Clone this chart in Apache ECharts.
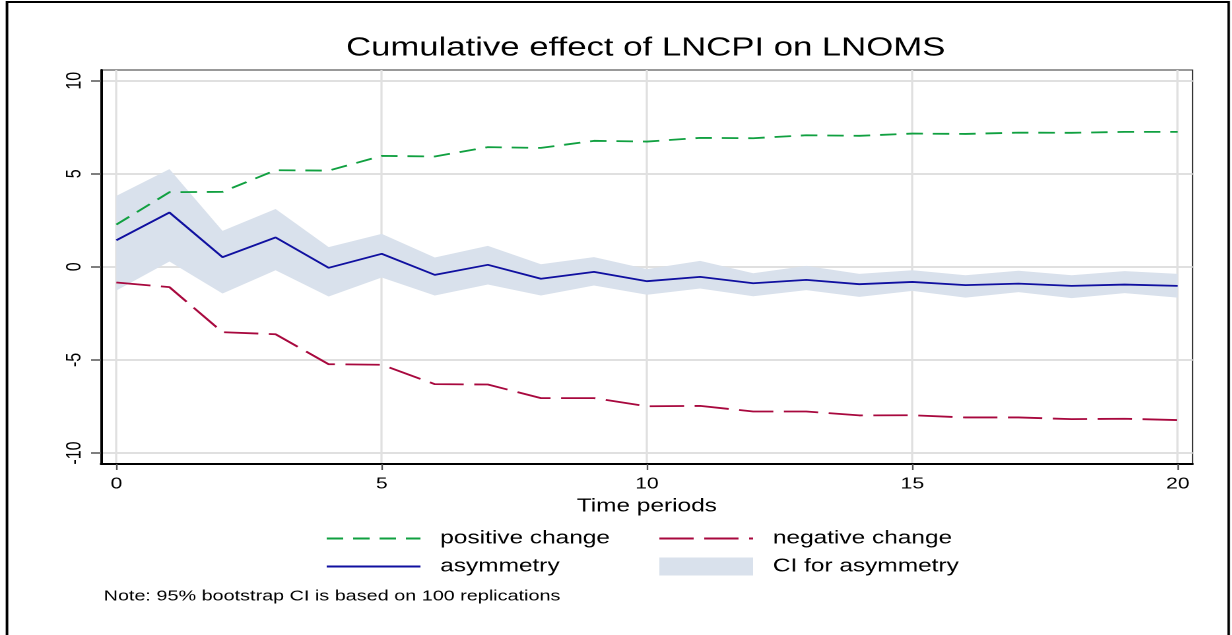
<!DOCTYPE html>
<html>
<head>
<meta charset="utf-8">
<script src="https://cdn.jsdelivr.net/npm/echarts@6/dist/echarts.min.js"></script>
<style>
  html, body { margin: 0; padding: 0; background: #fff; overflow: hidden; }
  #chart { position: absolute; left: 0; top: 0; width: 933.33px; height: 635px;
           transform: scaleX(1.32); transform-origin: 0 0; }
</style>
</head>
<body>
<div id="chart"></div>
<script>
// ---- data ----
const periods = [0,1,2,3,4,5,6,7,8,9,10,11,12,13,14,15,16,17,18,19,20];
const xTicks = [0,5,10,15,20];
const yTicks = [-10,-5,0,5,10];
const positiveChange = [2.27,4.01,4.03,5.19,5.17,5.96,5.93,6.43,6.39,6.77,6.73,6.93,6.91,7.07,7.04,7.16,7.14,7.21,7.20,7.25,7.25];
const negativeChange = [-0.84,-1.09,-3.51,-3.62,-5.23,-5.26,-6.30,-6.32,-7.05,-7.05,-7.49,-7.47,-7.77,-7.77,-7.98,-7.97,-8.09,-8.09,-8.18,-8.16,-8.23];
const asymmetry = [1.43,2.92,0.52,1.58,-0.05,0.70,-0.43,0.11,-0.64,-0.27,-0.77,-0.54,-0.88,-0.70,-0.93,-0.81,-0.98,-0.90,-1.02,-0.95,-1.02];
const ciUpper = [3.81,5.25,1.93,3.11,1.06,1.77,0.50,1.13,0.14,0.52,-0.12,0.32,-0.34,0.05,-0.38,-0.18,-0.45,-0.21,-0.45,-0.23,-0.38];
const ciLower = [-1.27,0.29,-1.43,-0.18,-1.59,-0.57,-1.54,-0.95,-1.54,-1.00,-1.50,-1.16,-1.58,-1.25,-1.61,-1.29,-1.65,-1.36,-1.68,-1.41,-1.65];

const titleText = 'Cumulative effect of LNCPI on LNOMS';
const noteText = 'Note: 95% bootstrap CI is based on 100 replications';
const xName = 'Time periods';
const names = ['positive change', 'negative change', 'asymmetry', 'CI for asymmetry'];

// ---- styles ----
const FONT = '"Liberation Sans", Arial, Helvetica, sans-serif';
const GREEN = '#10a040';
const RED = '#a8083e';
const BLUE = '#1010a0';
const BAND = '#d9e1ec';
const GRID = '#e0e0e0';

const plotLeft = 76.5, plotRight = 903.8, chartW = 933.33;
const plotCenter = (plotLeft + plotRight) / 2;
const titleSize = 26.3;
const ctx = document.createElement('canvas').getContext('2d');
ctx.font = titleSize + 'px ' + FONT;
const titleW = ctx.measureText(titleText).width;

const chart = echarts.init(document.getElementById('chart'), null, { renderer: 'canvas', devicePixelRatio: 2 });

const legendText = { fontFamily: FONT, fontSize: 18.5, color: '#000', padding: [0, 0, 0, 10] };
const noMarker = { color: 'transparent', opacity: 0, borderWidth: 0 };

const option = {
  backgroundColor: '#fff',
  animation: false,
  textStyle: { fontFamily: FONT, color: '#000' },
  title: [
    { text: titleText, left: plotCenter - titleW / 2 - 1, top: 35, padding: 0,
      textStyle: { fontFamily: FONT, fontSize: titleSize, fontWeight: 'normal', color: '#000' } },
    { text: noteText, left: 78.5, top: 589, padding: 0,
      textStyle: { fontFamily: FONT, fontSize: 15, fontWeight: 'normal', color: '#000' } }
  ],
  grid: { left: plotLeft, right: chartW - plotRight, top: 70, bottom: 171,
          show: true, borderColor: '#333', borderWidth: 1, backgroundColor: 'transparent' },
  legend: [
    { orient: 'vertical', left: 246.5, top: 529, padding: 0, itemWidth: 71, itemHeight: 18, itemGap: 9,
      selectedMode: false,
      data: [{ name: names[0], itemStyle: noMarker }, { name: names[2], itemStyle: noMarker }],
      textStyle: legendText },
    { orient: 'vertical', left: 498.5, top: 529, padding: 0, itemWidth: 71, itemHeight: 18, itemGap: 9,
      selectedMode: false,
      data: [{ name: names[1], itemStyle: noMarker }, { name: names[3], icon: 'rect', itemStyle: { color: BAND } }],
      textStyle: legendText }
  ],
  xAxis: {
    type: 'value', min: -0.29, max: 20.28,
    name: xName, nameLocation: 'middle', nameGap: 24,
    nameTextStyle: { fontFamily: FONT, fontSize: 18.5, color: '#000' },
    axisLine: { show: true, onZero: false, lineStyle: { color: '#000', width: 2 } },
    axisTick: { show: true, customValues: xTicks, length: 6, lineStyle: { color: '#555', width: 1.2 } },
    axisLabel: { customValues: xTicks, margin: 12, fontFamily: FONT, fontSize: 16, color: '#000' },
    splitLine: { show: true, lineStyle: { color: GRID, width: 1.6 } }
  },
  yAxis: {
    type: 'value', min: -10.59, max: 10.575,
    axisLine: { show: true, onZero: false, lineStyle: { color: '#000', width: 2 } },
    axisTick: { show: true, customValues: yTicks, length: 7.5, lineStyle: { color: '#555', width: 1.5 } },
    axisLabel: { customValues: yTicks, rotate: 90, margin: 12, fontFamily: FONT, fontSize: 16, color: '#000' },
    splitLine: { show: true, lineStyle: { color: GRID, width: 2 } }
  },
  series: [
    {
      name: names[3], type: 'custom', z: 1, silent: true,
      itemStyle: { color: BAND },
      encode: { x: 0, y: [1, 2] },
      data: periods.map((p, i) => [p, ciLower[i], ciUpper[i]]),
      renderItem: function (params, api) {
        if (params.dataIndex !== 0) return null;
        const pts = [];
        for (let i = 0; i < periods.length; i++) pts.push(api.coord([periods[i], ciUpper[i]]));
        for (let i = periods.length - 1; i >= 0; i--) pts.push(api.coord([periods[i], ciLower[i]]));
        return { type: 'polygon', shape: { points: pts }, style: { fill: BAND } };
      }
    },
    {
      name: names[0], type: 'line', z: 3, symbol: 'none', silent: true,
      data: periods.map((p, i) => [p, positiveChange[i]]),
      itemStyle: { color: GREEN },
      lineStyle: { color: GREEN, width: 1.8, type: [12.5, 7.5] }
    },
    {
      name: names[1], type: 'line', z: 3, symbol: 'none', silent: true,
      data: periods.map((p, i) => [p, negativeChange[i]]),
      itemStyle: { color: RED },
      lineStyle: { color: RED, width: 1.8, type: [26, 8] }
    },
    {
      name: names[2], type: 'line', z: 3, symbol: 'none', silent: true,
      data: periods.map((p, i) => [p, asymmetry[i]]),
      itemStyle: { color: BLUE },
      lineStyle: { color: BLUE, width: 1.8 }
    }
  ],
  graphic: [
    { type: 'rect', silent: true, z: 100,
      shape: { x: 5.3, y: 2, width: 925.5, height: 700 },
      style: { fill: 'none', stroke: '#000', lineWidth: 2 } }
  ]
};
chart.setOption(option);
</script>
</body>
</html>
